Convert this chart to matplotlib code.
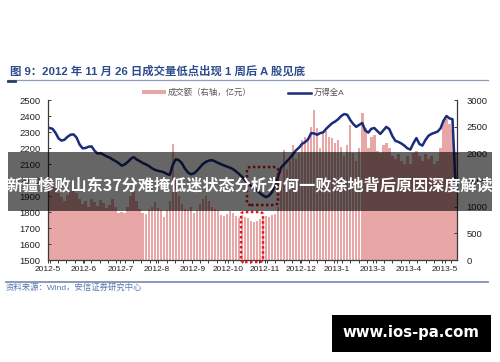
import matplotlib
matplotlib.use("Agg")
import matplotlib.pyplot as plt
import matplotlib.transforms as mtransforms
from matplotlib.patches import Rectangle, FancyBboxPatch
from matplotlib.lines import Line2D
from matplotlib.ticker import MultipleLocator
import numpy as np

plt.rcParams["font.family"] = ["Liberation Sans", "Noto Sans CJK SC", "DejaVu Sans"]

# 万得全A, about every second trading day
index_level = [
    2325, 2320, 2295, 2260, 2246, 2252, 2270, 2283, 2285, 2265,
    2222, 2198, 2200, 2208, 2210, 2182, 2165, 2168, 2158, 2147,
    2140, 2128, 2118, 2105, 2090, 2097, 2112, 2132, 2143, 2128,
    2118, 2106, 2098, 2088, 2074, 2064, 2058, 2054, 2048, 2038,
    2032, 2095, 2130, 2124, 2105, 2072, 2048, 2036, 2041, 2057,
    2078, 2100, 2113, 2121, 2124, 2117, 2107, 2099, 2091, 2084,
    2077, 2068, 2054, 2038, 2020, 1998, 1983, 1963, 1948, 1933,
    1918, 1903, 1893, 1902, 1925, 1965, 2020, 2078, 2098, 2118,
    2138, 2163, 2186, 2203, 2226, 2237, 2255, 2293, 2291, 2283,
    2293, 2298, 2320, 2338, 2355, 2366, 2380, 2400, 2412, 2408,
    2375, 2350, 2332, 2345, 2356, 2310, 2296, 2320, 2325, 2306,
    2288, 2310, 2332, 2318, 2275, 2245, 2238, 2228, 2215, 2198,
    2190, 2230, 2262, 2225, 2215, 2250, 2276, 2288, 2295, 2302,
    2322, 2370, 2400, 2385, 2380, 1980,
]

# 成交额 (亿元), right axis
turnover = [
    1550, 1400, 1350, 1250, 1180, 1100, 1220, 1300, 1350, 1250,
    1150, 1050, 1100, 1000, 1150, 1080, 1020, 1120, 1060, 980,
    1040, 1150, 1000, 880, 900, 890, 1000, 1200, 1300, 1100,
    950, 880, 860, 950, 1000, 1080, 980, 940, 800, 930,
    1100, 2175, 1500, 1200, 1050, 960, 940, 1000, 880, 930,
    1050, 1150, 1200, 1100, 1000, 950, 930, 850, 820, 870,
    920, 890, 820, 780, 840, 800, 780, 740, 720, 740,
    770, 790, 830, 800, 840, 870, 1000, 1450, 2060, 1700,
    1850, 2150, 1900, 2000, 2250, 2300, 2250, 2500, 2810, 2480,
    2100, 2380, 2420, 2300, 2280, 2200, 2250, 2120, 1950, 2150,
    2530, 2000, 1850, 2100, 2750, 2480, 2100, 2300, 2350, 2050,
    2000, 2150, 2200, 2100, 1950, 1900, 1980, 1850, 1800, 1950,
    1800, 2000, 2050, 1950, 1850, 1980, 1900, 1950, 1800, 1850,
    2100, 2600, 2650, 2550, 2450, 2000,
]

month_labels = ["2012-5", "2012-6", "2012-7", "2012-8", "2012-9", "2012-10",
                "2012-11", "2012-12", "2013-1", "2013-3", "2013-4", "2013-5"]
label_step = 12

title = "图 9：2012 年 11 月 26 日成交量低点出现 1 周后 A 股见底"
banner = "新疆惨败山东37分难掩低迷状态分析为何一败涂地背后原因深度解读"
source = "资料来源：Wind，安信证券研究中心"

W, H = 500, 362


def fx(px):
    return px / W


def fy(py):
    return 1 - py / H


fig = plt.figure(figsize=(5, 3.62), dpi=100)
ax = fig.add_axes([fx(48), fy(260), fx(457) - fx(48), fy(100) - fy(260)])
ax2 = ax.twinx()

n = len(index_level)
x = np.arange(n)
ax2.bar(x, turnover, width=0.82, color="#E8A7A6", linewidth=0,
        label="成交额（右轴，亿元）")
ax.plot(x, index_level, color="#1A2C7E", lw=1.8, label="万得全A")
ax.set_zorder(ax2.get_zorder() + 1)
ax.patch.set_visible(False)

ax.set_xlim(-0.5, n - 0.5)
ax.set_ylim(1500, 2500)
ax2.set_ylim(0, 3000)
ax.set_yticks(np.arange(1500, 2501, 100))
ax2.set_yticks(np.arange(0, 3001, 500))

ax.set_xticks([j * label_step - 0.5 for j in range(len(month_labels))])
ax.set_xticklabels(month_labels)
ax.xaxis.set_minor_locator(MultipleLocator(2.78))
shift = mtransforms.ScaledTranslation(-0.05, 0, fig.dpi_scale_trans)
for lab in ax.get_xticklabels():
    lab.set_transform(lab.get_transform() + shift)

ax.spines["top"].set_visible(False)
for s in ax2.spines:
    ax2.spines[s].set_visible(False)
for s in ["left", "right", "bottom"]:
    ax.spines[s].set_color("#3a3a3a")
    ax.spines[s].set_linewidth(0.9)

ax.tick_params(axis="y", direction="in", length=2.5, width=0.7, pad=5.5,
               labelsize=6.8, colors="#3a3a3a", labelcolor="#222222")
ax2.tick_params(axis="y", direction="in", length=2.5, width=0.7, pad=7,
                labelsize=6.8, colors="#3a3a3a", labelcolor="#222222")
ax.tick_params(axis="x", which="major", direction="out", length=2.5, width=0.7,
               pad=2, labelsize=6, colors="#3a3a3a", labelcolor="#222222")
ax.tick_params(axis="x", which="minor", direction="out", length=2.5, width=0.7,
               colors="#3a3a3a")

# legend
h1, l1 = ax2.get_legend_handles_labels()
h2, l2 = ax.get_legend_handles_labels()
fig.legend(h1 + h2, l1 + l2, loc="center left", ncol=2, frameon=False,
           bbox_to_anchor=(fx(138), fy(93)), fontsize=6, handlelength=2.8,
           handleheight=0.35, handletextpad=0.3, columnspacing=4.3,
           borderpad=0, labelcolor="#555555")

# title and rules
fig.text(fx(10), fy(71), title, fontsize=8.2, weight="bold", color="#2C4A8C",
         ha="left", va="center")
fig.add_artist(Line2D([fx(8), fx(488)], [fy(80), fy(80)], color="#8E9EB8",
                      lw=0.9, transform=fig.transFigure))
fig.add_artist(Line2D([fx(8), fx(15)], [fy(80.5), fy(80.5)], color="#2B3E6B",
                      lw=2, transform=fig.transFigure))
fig.add_artist(Line2D([fx(6), fx(488)], [fy(281.5), fy(281.5)], color="#8093B5",
                      lw=1.3, transform=fig.transFigure))
fig.text(fx(6), fy(288), source, fontsize=6, color="#5A78AE", ha="left",
         va="center")

# red dotted highlight boxes
for (x0, y0, x1, y1) in [(247, 167, 278, 205), (241, 212, 263, 262)]:
    box = FancyBboxPatch((fx(x0), fy(y1)), fx(x1) - fx(x0), fy(y0) - fy(y1),
                         boxstyle="round,pad=0,rounding_size=0.008",
                         transform=fig.transFigure, fill=False,
                         edgecolor="#E8141B", lw=1.8, linestyle=(0, (1, 1)),
                         zorder=5)
    fig.add_artist(box)

# overlay banner
fig.add_artist(Rectangle((fx(8), fy(211)), fx(492) - fx(8), fy(152) - fy(211),
                         transform=fig.transFigure, color="black", alpha=0.6,
                         lw=0, zorder=10))
fig.text(fx(250), fy(185), banner, fontsize=11.6, weight="bold", color="white",
         ha="center", va="center", zorder=11,
         family=["Noto Sans CJK SC", "DejaVu Sans"])

# watermark
fig.add_artist(Rectangle((fx(332), fy(352)), fx(491) - fx(332), fy(315) - fy(352),
                         transform=fig.transFigure, color="black", lw=0,
                         zorder=10))
fig.text(fx(411), fy(333), "www.ios-pa.com", fontsize=10.7, weight="bold",
         color="white", ha="center", va="center", zorder=11,
         family="DejaVu Sans")

fig.savefig("out.png", dpi=100)
